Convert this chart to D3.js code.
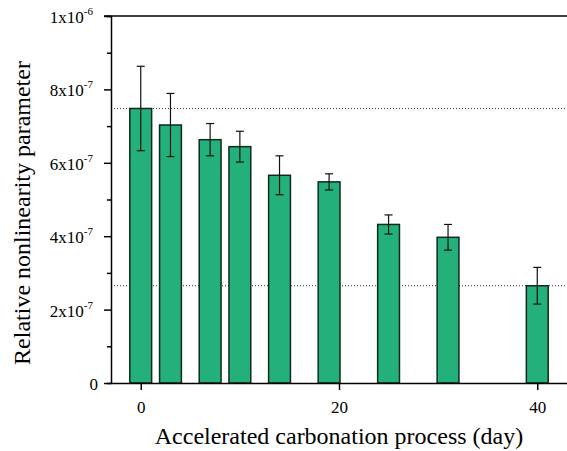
<!DOCTYPE html>
<html>
<head>
<meta charset="utf-8">
<script src="https://cdn.jsdelivr.net/npm/d3@7"></script>
<style>
  body { margin: 0; background: #fff; }
  text { font-family: "Liberation Serif", "Times New Roman", serif; fill: #000; }
</style>
</head>
<body>
<div id="chart"></div>
<script>
// carbonation days and relative nonlinearity (x1e-7)
var days = [0, 3, 7, 10, 14, 19, 25, 31, 40];
var values = [7.48, 7.03, 6.63, 6.44, 5.66, 5.48, 4.32, 3.97, 2.65];
var errors = [1.15, 0.86, 0.44, 0.42, 0.53, 0.22, 0.26, 0.35, 0.50];
var refLines = [7.48, 2.65];
var yTicks = [0, 2, 4, 6, 8, 10];
var xTicks = [0, 20, 40];

var width = 567, height = 451;
var margin = { left: 111, top: 16, right: 0, bottom: 68 };

var svg = d3.select('#chart').append('svg')
  .attr('width', width)
  .attr('height', height);

var x = d3.scaleLinear().domain([-3, 43]).range([margin.left, width - margin.right]);
var y = d3.scaleLinear().domain([0, 10]).range([height - margin.bottom, margin.top]);
var barW = x(2.2) - x(0);

// reference dotted lines
svg.selectAll('.ref')
  .data(refLines)
  .enter().append('line')
  .attr('x1', x.range()[0]).attr('x2', x.range()[1])
  .attr('y1', function (d) { return y(d); })
  .attr('y2', function (d) { return y(d); })
  .attr('stroke', '#333')
  .attr('stroke-width', 1)
  .attr('stroke-dasharray', '1,2');

// bars
svg.selectAll('.bar')
  .data(values)
  .enter().append('rect')
  .attr('x', function (d, i) { return x(days[i]) - barW / 2; })
  .attr('y', function (d) { return y(d); })
  .attr('width', barW)
  .attr('height', function (d) { return y(0) - y(d); })
  .attr('fill', '#24B07A')
  .attr('stroke', '#0d2a1c')
  .attr('stroke-width', 1.5);

// error bars
var eb = svg.selectAll('.err')
  .data(values)
  .enter().append('g')
  .attr('stroke', '#111')
  .attr('stroke-width', 1.2);
eb.append('line')
  .attr('x1', function (d, i) { return x(days[i]); })
  .attr('x2', function (d, i) { return x(days[i]); })
  .attr('y1', function (d, i) { return y(d + errors[i]); })
  .attr('y2', function (d, i) { return y(d - errors[i]); });
eb.selectAll('.cap')
  .data(function (d, i) { return [[i, d + errors[i]], [i, d - errors[i]]]; })
  .enter().append('line')
  .attr('x1', function (d) { return x(days[d[0]]) - 4; })
  .attr('x2', function (d) { return x(days[d[0]]) + 4; })
  .attr('y1', function (d) { return y(d[1]); })
  .attr('y2', function (d) { return y(d[1]); });

// frame top line
svg.append('line')
  .attr('x1', margin.left - 7).attr('x2', width)
  .attr('y1', y(10)).attr('y2', y(10))
  .attr('stroke', '#000').attr('stroke-width', 1.5);

// y axis
var yAxis = svg.append('g')
  .attr('transform', 'translate(' + margin.left + ',0)')
  .call(d3.axisLeft(y).tickValues(d3.range(0, 11, 1)).tickSize(4).tickFormat(''));
yAxis.selectAll('.tick line')
  .attr('x2', function (d) { return d % 2 === 0 ? -7 : -4; })
  .attr('stroke-width', 1.5);
yAxis.select('.domain').attr('stroke-width', 1.5);

var yLab = svg.selectAll('.ylab')
  .data(yTicks)
  .enter().append('text')
  .attr('x', margin.left - 18)
  .attr('y', function (d) { return y(d) + 7; })
  .attr('text-anchor', 'end')
  .style('font-size', '17px');
yLab.each(function (d) {
  var t = d3.select(this);
  if (d === 0) { t.attr('x', margin.left - 13).text('0'); return; }
  var mant = d === 10 ? 1 : d;
  var exp = d === 10 ? '-6' : '-7';
  t.append('tspan').text(mant + 'x10');
  t.append('tspan').attr('dy', -8).style('font-size', '11px').text(exp);
});

// x axis
var xAxis = svg.append('g')
  .attr('transform', 'translate(0,' + y(0) + ')')
  .call(d3.axisBottom(x).tickValues(xTicks).tickSize(7).tickSizeOuter(0));
xAxis.selectAll('.tick line').attr('stroke-width', 1.5);
xAxis.select('.domain').attr('stroke-width', 1.5);
xAxis.selectAll('.tick text')
  .attr('y', 30)
  .attr('dy', null)
  .style('font-size', '17px')
  .style('font-family', '"Liberation Serif", serif');

// axis titles
svg.append('text')
  .attr('x', x(20))
  .attr('y', 444)
  .attr('text-anchor', 'middle')
  .style('font-size', '24px')
  .text('Accelerated carbonation process (day)');

svg.append('text')
  .attr('transform', 'translate(30,213) rotate(-90)')
  .attr('text-anchor', 'middle')
  .style('font-size', '24px')
  .text('Relative nonlinearity parameter');
</script>
</body>
</html>
